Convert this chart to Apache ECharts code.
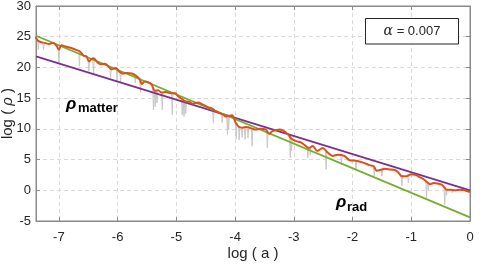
<!DOCTYPE html>
<html><head><meta charset="utf-8">
<script src="https://cdn.jsdelivr.net/npm/echarts@6/dist/echarts.min.js"></script>
<style>html,body{margin:0;padding:0;background:#fff}#c{width:486px;height:265px}</style>
</head><body><div id="c"></div>
<script>
// ---- data ----
const xRange = [-7.39, 0];
const yTicks = [-5, 0, 5, 10, 15, 20, 25, 30];
const orangeX = [-7.40,-7.36,-7.30,-7.24,-7.17,-7.10,-7.04,-7.00,-6.96,-6.88,-6.80,-6.72,-6.64,-6.58,-6.53,-6.49,-6.44,-6.41,-6.35,-6.29,-6.22,-6.18,-6.10,-6.03,-5.97,-5.92,-5.84,-5.76,-5.68,-5.62,-5.59,-5.54,-5.48,-5.42,-5.37,-5.31,-5.25,-5.18,-5.10,-5.02,-4.97,-4.91,-4.85,-4.78,-4.72,-4.63,-4.56,-4.50,-4.45,-4.39,-4.33,-4.27,-4.20,-4.16,-4.12,-4.05,-3.99,-3.93,-3.88,-3.80,-3.76,-3.70,-3.65,-3.57,-3.48,-3.42,-3.37,-3.30,-3.25,-3.18,-3.10,-3.04,-2.96,-2.88,-2.82,-2.74,-2.68,-2.60,-2.51,-2.42,-2.34,-2.25,-2.14,-2.05,-1.94,-1.82,-1.71,-1.64,-1.59,-1.53,-1.45,-1.36,-1.28,-1.22,-1.16,-1.08,-1.00,-0.93,-0.85,-0.79,-0.74,-0.68,-0.62,-0.55,-0.48,-0.43,-0.40,-0.33,-0.26,-0.18,-0.09,0.00];
const orangeY = [25.0,24.4,24.1,24.0,23.8,24.0,23.5,22.9,23.6,23.4,23.2,22.9,22.6,21.9,21.8,21.0,21.4,21.5,20.9,20.5,20.6,20.4,19.7,19.9,19.3,19.0,19.1,19.0,18.6,18.0,17.3,17.7,17.6,17.2,16.2,16.3,15.9,16.0,15.8,15.8,15.3,14.9,14.5,14.4,14.1,14.3,14.0,13.7,13.5,13.3,12.9,12.6,12.3,12.0,12.1,12.2,11.0,10.3,10.2,10.3,10.2,10.0,9.9,10.0,9.9,9.2,9.6,9.8,9.9,9.7,9.1,8.4,8.0,7.8,7.4,6.9,7.2,6.4,6.9,6.1,5.6,5.8,5.6,4.9,4.8,4.5,4.1,3.9,3.2,3.3,3.5,3.4,3.3,2.9,2.3,2.3,2.6,2.5,2.1,1.8,1.4,1.0,1.2,1.1,0.9,0.4,0.1,0.1,0.0,0.1,0.0,-0.3];
const radX = [-7.39, 0];
const radY = [25.16, -4.4];
const matterX = [-7.39, 0];
const matterY = [21.8, 0.0];
const spikeX   = [-7.35,-7.26,-7.00,-6.65,-6.49,-6.41,-6.12,-6.01,-5.95,-5.70,-5.61,-5.39,-5.36,-5.33,-5.24,-5.07,-4.90,-4.87,-4.84,-4.37,-4.22,-4.13,-4.11,-3.98,-3.93,-3.88,-3.83,-3.78,-3.71,-3.45,-3.06,-3.04,-2.76,-2.72,-2.45,-2.19,-1.94,-1.63,-1.50,-1.16,-1.05,-0.74,-0.71,-0.43,-0.40,-0.30,-0.20];
const spikeTop = [24.4,24.0,23.0,22.7,21.0,21.4,19.8,19.8,19.2,18.8,17.8,16.6,16.2,16.3,15.9,15.8,14.8,14.6,14.5,13.2,12.4,12.1,12.1,11.0,10.3,10.2,10.2,10.2,10.0,9.5,8.8,8.4,7.0,7.0,6.3,5.7,4.8,3.8,3.4,2.3,2.4,1.4,1.2,0.4,0.1,0.1,0.1];
const spikeLow = [22.9,22.9,20.7,20.2,19.4,18.8,18.3,17.8,17.6,17.5,15.9,13.1,13.6,14.2,13.1,12.3,12.3,12.0,12.5,11.0,11.0,9.1,9.9,8.4,8.2,8.6,8.3,8.5,7.2,6.9,5.3,6.4,5.3,5.7,3.4,4.2,3.4,2.3,2.3,0.7,1.2,-1.2,0.0,-2.3,-0.8,-0.4,-0.1];
const legendText = '{a|α} = 0.007';

// ---- build ----
const orangeData = orangeX.map((x, i) => [x, orangeY[i]]);
const radData = radX.map((x, i) => [x, radY[i]]);
const matterData = matterX.map((x, i) => [x, matterY[i]]);
const grayData = [];
spikeX.forEach((x, i) => {
  grayData.push([x - 0.012, spikeTop[i]], [x, spikeLow[i]], [x + 0.012, spikeTop[i]], [x + 0.013, '-']);
});

const FONT = 'Liberation Sans, Arial, Helvetica, sans-serif';
const axisCol = '#8a8a8a';
const labCol = '#262626';
const gridLine = { show: true, lineStyle: { color: '#d9d9d9', type: [4, 3], width: 1 } };

const chart = echarts.init(document.getElementById('c'), null, { renderer: 'canvas' });
chart.setOption({
  backgroundColor: '#fff',
  animation: false,
  grid: { left: 36, right: 16, top: 6, bottom: 44, show: true, borderColor: axisCol, borderWidth: 1,
    containLabel: false, outerBoundsMode: 'none' },
  xAxis: [{
    type: 'value', min: xRange[0], max: xRange[1], splitNumber: 7, minInterval: 1, maxInterval: 1,
    axisLine: { show: true, onZero: false, lineStyle: { color: axisCol } },
    axisTick: { show: true, inside: true, length: 4, lineStyle: { color: axisCol } },
    axisLabel: { showMinLabel: false, color: labCol, fontSize: 13, fontFamily: FONT, margin: 10,
      formatter: v => Number.isInteger(v) ? String(v) : '' },
    splitLine: gridLine,
    name: 'log ( a )', nameLocation: 'middle', nameGap: 25, nameMoveOverlap: false,
    nameTextStyle: { color: labCol, fontSize: 15, fontFamily: FONT }
  }, {
    type: 'value', position: 'top', min: xRange[0], max: xRange[1], splitNumber: 7, minInterval: 1, maxInterval: 1,
    axisLine: { show: true, onZero: false, lineStyle: { color: axisCol } },
    axisTick: { show: true, inside: true, length: 4, lineStyle: { color: axisCol } },
    axisLabel: { show: false }, splitLine: { show: false }
  }],
  yAxis: [{
    type: 'value', min: yTicks[0], max: yTicks[yTicks.length - 1], interval: 5,
    axisLine: { show: true, onZero: false, lineStyle: { color: axisCol } },
    axisTick: { show: true, inside: true, length: 4, lineStyle: { color: axisCol } },
    axisLabel: { color: labCol, fontSize: 13, fontFamily: FONT, margin: 5 },
    splitLine: gridLine,
    name: 'log ( {i|ρ} )', nameLocation: 'middle', nameGap: 21, nameMoveOverlap: false,
    nameTextStyle: { color: labCol, fontSize: 15, fontFamily: FONT, rich: { i: { fontStyle: 'italic', fontSize: 15, color: labCol, fontFamily: FONT } } }
  }, {
    type: 'value', position: 'right', min: yTicks[0], max: yTicks[yTicks.length - 1], interval: 5,
    axisLine: { show: true, onZero: false, lineStyle: { color: axisCol } },
    axisTick: { show: true, inside: true, length: 4, lineStyle: { color: axisCol } },
    axisLabel: { show: false }, splitLine: { show: false }
  }],
  series: [
    { type: 'line', data: grayData, showSymbol: false, symbol: 'none', connectNulls: false,
      lineStyle: { color: '#c8c8c8', width: 1 }, z: 2 },
    { type: 'line', data: matterData, symbol: 'none', lineStyle: { color: '#7E2F8E', width: 1.8 }, z: 3 },
    { type: 'line', data: radData, symbol: 'none', lineStyle: { color: '#77AC30', width: 1.8 }, z: 3 },
    { type: 'line', data: orangeData, symbol: 'none', smooth: 0.3, lineStyle: { color: '#D95319', width: 2 }, z: 4 }
  ],
  graphic: [
    { type: 'rect', shape: { x: 365.5, y: 18.5, width: 93, height: 25.5 },
      style: { fill: '#fff', stroke: '#262626', lineWidth: 1 }, z: 10 },
    { type: 'text', x: 412, y: 31.5, z: 11,
      style: { text: legendText, fontSize: 13, fontFamily: FONT, fill: labCol, align: 'center', verticalAlign: 'middle',
        rich: { a: { fontStyle: 'italic', fontSize: 14, fontFamily: 'DejaVu Serif, serif', fill: labCol } } } },
    { type: 'text', x: 66, y: 104, z: 11,
      style: { text: 'ρ', fontSize: 17, fontWeight: 'bold', fontStyle: 'italic', fontFamily: FONT, fill: '#000', align: 'left', verticalAlign: 'middle' } },
    { type: 'text', x: 78, y: 108, z: 11,
      style: { text: 'matter', fontSize: 13, fontWeight: 'bold', fontFamily: FONT, fill: '#000', align: 'left', verticalAlign: 'middle' } },
    { type: 'text', x: 336, y: 202, z: 11,
      style: { text: 'ρ', fontSize: 17, fontWeight: 'bold', fontStyle: 'italic', fontFamily: FONT, fill: '#000', align: 'left', verticalAlign: 'middle' } },
    { type: 'text', x: 347, y: 207, z: 11,
      style: { text: 'rad', fontSize: 13, fontWeight: 'bold', fontFamily: FONT, fill: '#000', align: 'left', verticalAlign: 'middle' } }
  ]
});
</script>
</body></html>
